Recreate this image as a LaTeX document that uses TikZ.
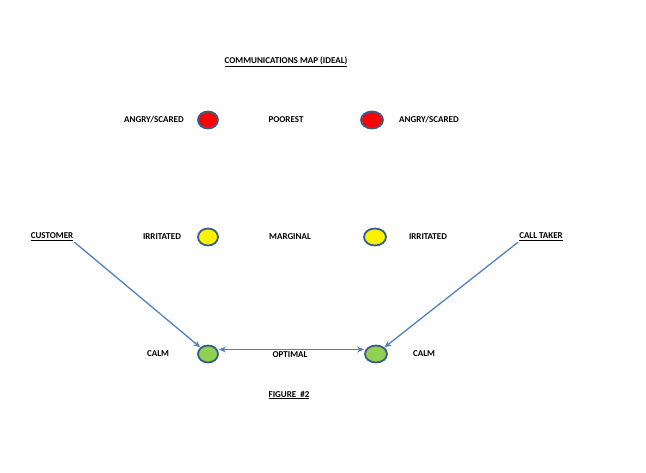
\documentclass[tikz,border=0pt]{standalone}
\usepackage{fontspec}
\setmainfont{Carlito}
\usetikzlibrary{arrows.meta,positioning,shapes.geometric}
\definecolor{linkblue}{RGB}{79,129,189}
\definecolor{rimblue}{RGB}{56,93,138}
\definecolor{calmgreen}{RGB}{146,208,80}

\begin{document}
\begin{tikzpicture}[
    x=1pt, y=-1pt,
    lbl/.style={font=\fontsize{9}{10}\selectfont\bfseries, inner sep=1pt},
    dot/.style={ellipse, draw=rimblue, line width=1.8pt, minimum width=20pt, minimum height=17pt, inner sep=0pt},
    >={Stealth[length=7pt,width=6pt]}
]
\useasboundingbox (0,0) rectangle (646,472);
\node[lbl] (title) at (286,62) {\underline{COMMUNICATIONS MAP (IDEAL)}};
% poorest row
\node[lbl] (angryL) at (154,120) {ANGRY/SCARED};
\node[dot, fill=red] (redL) at (208,120) {};
\node[lbl] (poorest) at (286,120) {POOREST};
\node[dot, fill=red, minimum width=22pt] (redR) at (372,120) {};
\node[lbl] (angryR) at (429,120) {ANGRY/SCARED};
% marginal row
\node[lbl] (customer) at (52,237) {\underline{CUSTOMER}};
\node[lbl] (irrL) at (162,237) {IRRITATED};
\node[dot, fill=yellow] (yelL) at (208,237) {};
\node[lbl] (marginal) at (290,237) {MARGINAL};
\node[dot, fill=yellow, minimum width=22pt] (yelR) at (375,237) {};
\node[lbl] (irrR) at (428,237) {IRRITATED};
\node[lbl] (taker) at (541,237) {\underline{CALL TAKER}};
% optimal row
\node[lbl] (calmL) at (158,354) {CALM};
\node[dot, fill=calmgreen] (grnL) at (208,354) {};
\node[lbl] (optimal) at (290,355) {OPTIMAL};
\node[dot, fill=calmgreen, minimum width=22pt] (grnR) at (376,354) {};
\node[lbl] (calmR) at (424,354) {CALM};
\node[lbl] (figure) at (289,395) {\underline{FIGURE~~\#2}};
\draw[->, linkblue, line width=1.3pt] (customer.south east) -- (grnL.north west);
\draw[->, linkblue, line width=1.3pt] (taker.south west) -- (grnR.north east);
\draw[<->, linkblue, line width=1.3pt] ([yshift=4.5pt]grnL.east) -- ([yshift=4.5pt]grnR.west);
\end{tikzpicture}
\end{document}
